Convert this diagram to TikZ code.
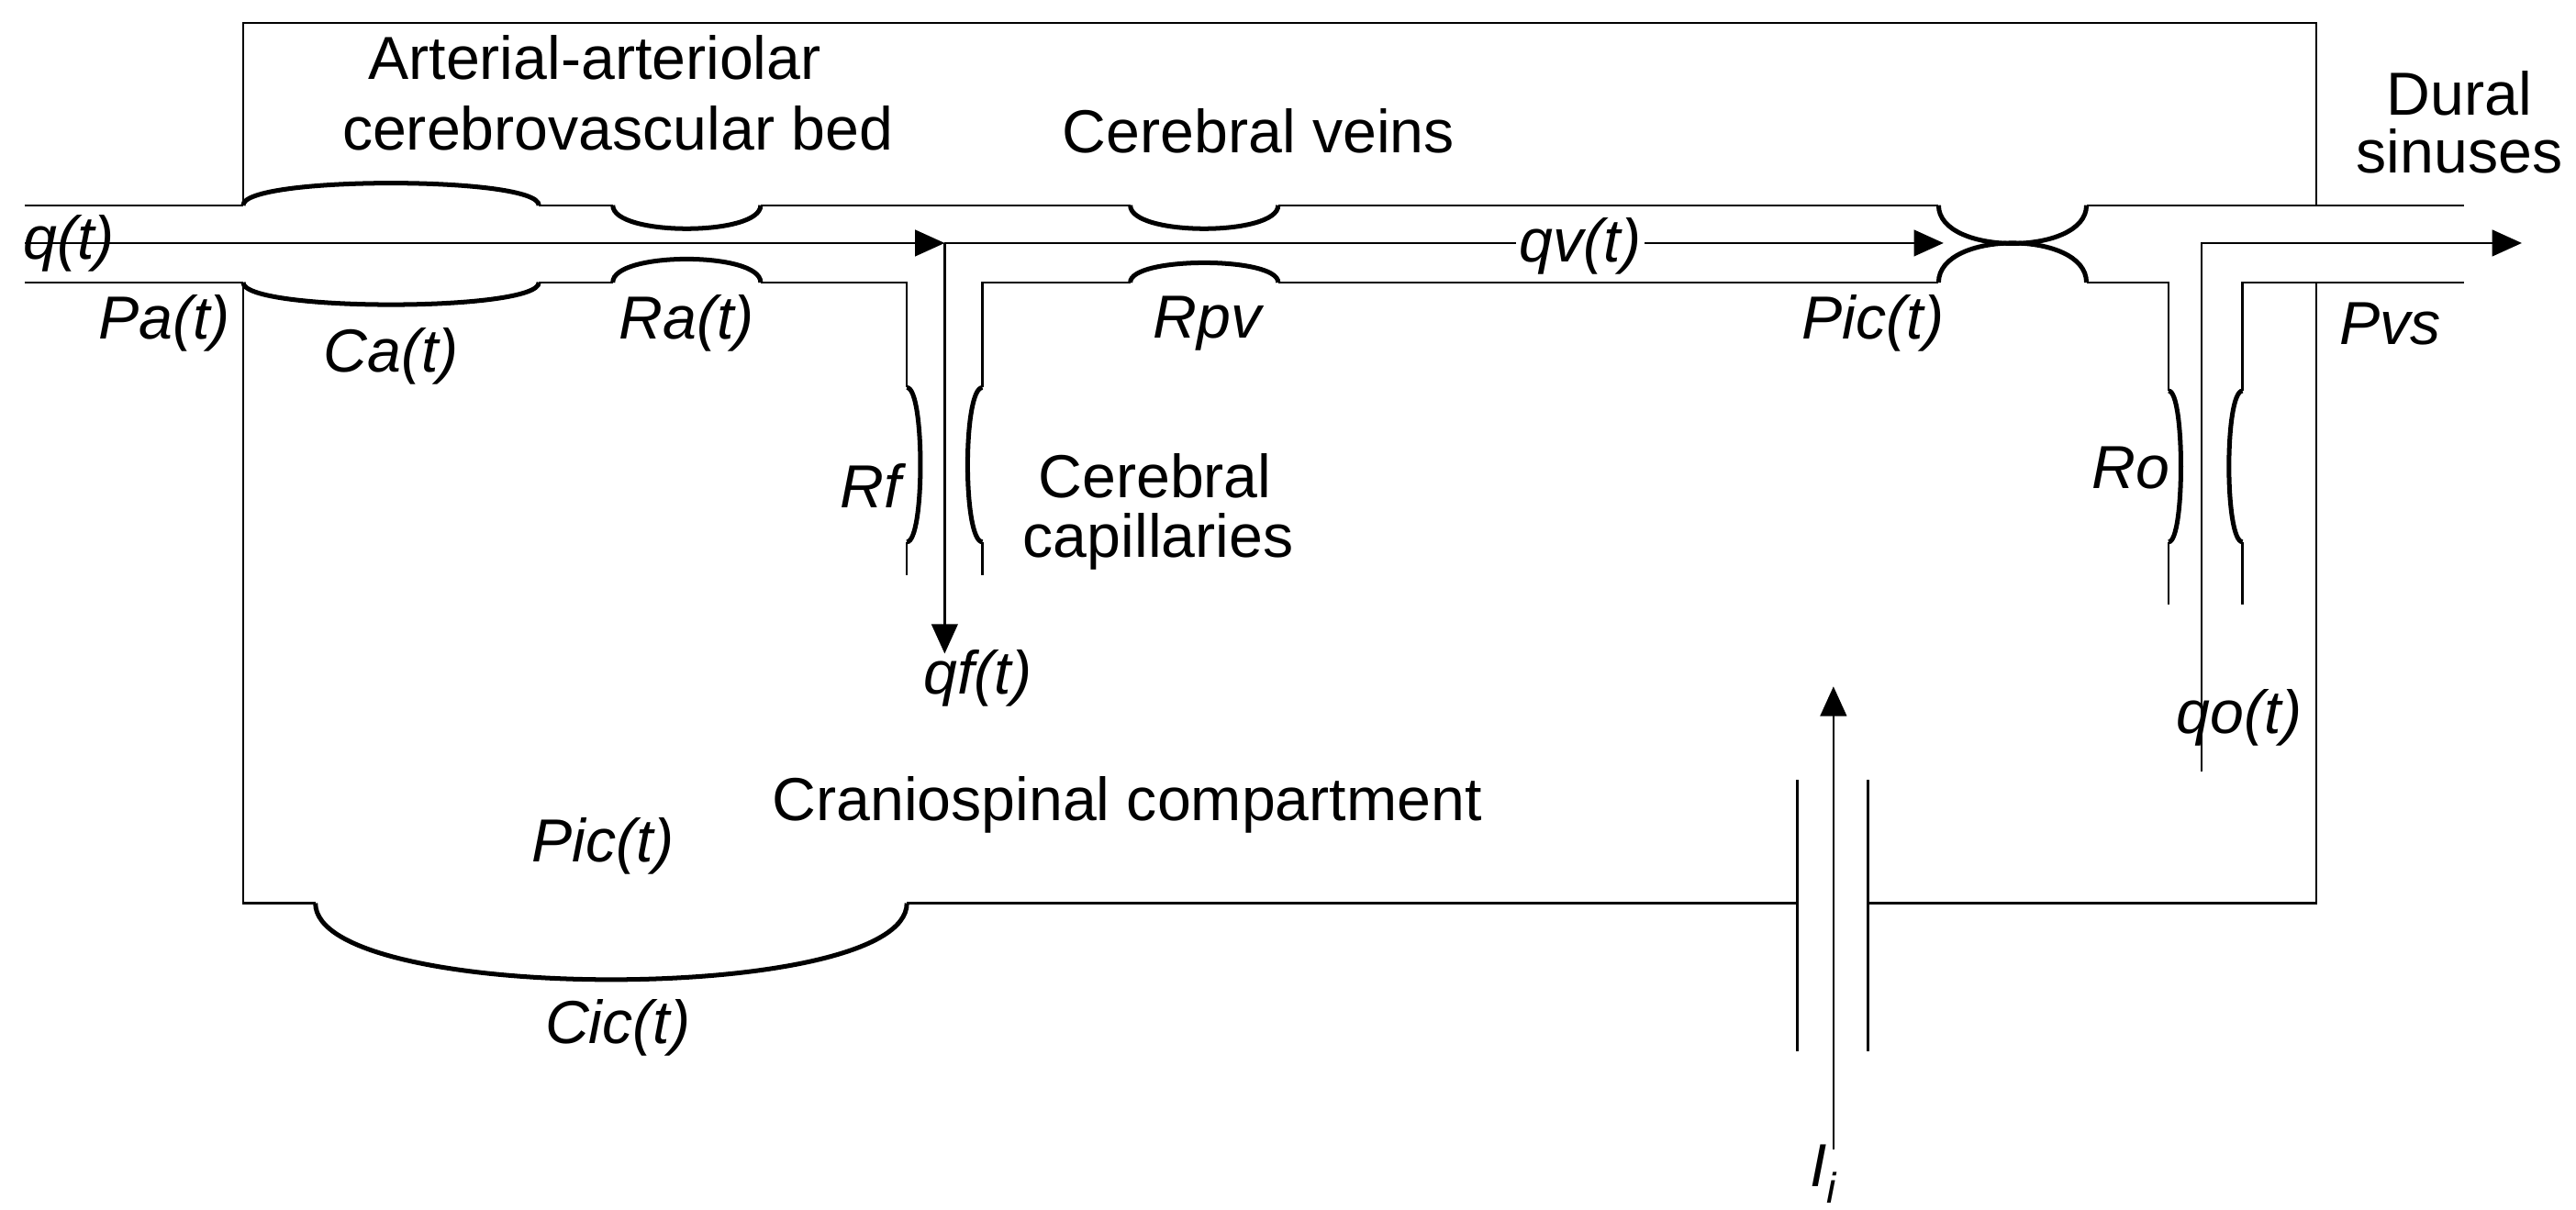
\documentclass[tikz,border=0pt]{standalone}
\usepackage{fontspec}
\setmainfont{Liberation Sans}
\usetikzlibrary{arrows.meta}
\begin{document}
\begin{tikzpicture}[x=1pt,y=-1pt,
  thinline/.style={line width=1.3pt},
  arcline/.style={line width=2.8pt},
  arr/.style={thinline,-{Triangle[length=18pt,width=16pt]}},
  lab/.style={font=\fontsize{37}{42}\selectfont,inner sep=0pt},
  var/.style={font=\fontsize{37}{42}\selectfont\itshape,inner sep=0pt}]
\useasboundingbox (0,0) rectangle (1568,736.3);
% outer box
\draw[thinline] (148,125) -- (148,14) -- (1410,14) -- (1410,125);
\draw[thinline] (148,172) -- (148,550) -- (192,550);
\draw[thinline] (552,550) -- (1094,550);
\draw[thinline] (1137,550) -- (1410,550) -- (1410,172);
\draw[arcline] (192,550) .. controls (192,612) and (552,612) .. (552,550);
% Ii capacitor
\draw[thinline] (1094,475) -- (1094,640);
\draw[thinline] (1137,475) -- (1137,640);
\coordinate (iib) at (1116,700);
\coordinate (iit) at (1116,418);
\draw[arr] (iib) -- (iit);
% top vessel line
\draw[thinline] (15,125) -- (148,125);
\draw[arcline] (148,125) .. controls (148,107) and (328,107) .. (328,125);
\draw[thinline] (328,125) -- (373,125);
\draw[arcline] (373,125) .. controls (373,144) and (463,144) .. (463,125);
\draw[thinline] (463,125) -- (688,125);
\draw[arcline] (688,125) .. controls (688,144) and (778,144) .. (778,125);
\draw[thinline] (778,125) -- (1180,125);
\draw[arcline] (1180,125) .. controls (1180,156) and (1270,156) .. (1270,125);
\draw[thinline] (1270,125) -- (1500,125);
% bottom vessel line
\draw[thinline] (15,172) -- (148,172);
\draw[arcline] (148,172) .. controls (148,190) and (328,190) .. (328,172);
\draw[thinline] (328,172) -- (373,172);
\draw[arcline] (373,172) .. controls (373,153) and (463,153) .. (463,172);
\draw[thinline] (463,172) -- (552,172) -- (552,236);
\draw[arcline] (552,236) .. controls (563,236) and (563,330) .. (552,330);
\draw[thinline] (552,330) -- (552,350);
\draw[thinline] (598,350) -- (598,330);
\draw[arcline] (598,330) .. controls (586,330) and (586,236) .. (598,236);
\draw[thinline] (598,236) -- (598,172) -- (688,172);
\draw[arcline] (688,172) .. controls (688,156) and (778,156) .. (778,172);
\draw[thinline] (778,172) -- (1180,172);
\draw[arcline] (1180,172) .. controls (1180,140) and (1270,140) .. (1270,172);
\draw[thinline] (1270,172) -- (1320,172) -- (1320,238);
\draw[arcline] (1320,238) .. controls (1330,238) and (1330,330) .. (1320,330);
\draw[thinline] (1320,330) -- (1320,368);
\draw[thinline] (1365,368) -- (1365,330);
\draw[arcline] (1365,330) .. controls (1354,330) and (1354,238) .. (1365,238);
\draw[thinline] (1365,238) -- (1365,172) -- (1500,172);
% flow lines
\coordinate (qin) at (15,148);
\coordinate (j1) at (575,148);
\coordinate (qfend) at (575,398);
\coordinate (jm) at (1170,148);
\coordinate (j2) at (1183,148);
\coordinate (oc) at (1340,470);
\coordinate (oc2) at (1340,148);
\coordinate (qend) at (1535,148);
\draw[arr] (qin) -- (j1);
\draw[thinline] (j1) -- (jm);
\draw[arr] (jm) -- (j2);
\draw[arr] (j1) -- (qfend);
\draw[arr] (oc) -- (oc2) -- (qend);
% labels
\node[lab] (t1) at (362,35) {Arterial-arteriolar};
\node[lab] (t2) at (376,78) {cerebrovascular bed};
\node[lab] (t3) at (766,80) {Cerebral veins};
\node[lab] (t4) at (1497,57) {Dural};
\node[lab] (t5) at (1497,92) {sinuses};
\node[lab] (t6) at (703,290) {Cerebral};
\node[lab] (t7) at (705,330) {capillaries};
\node[lab] (t8) at (686,490) {Craniospinal compartment};
\node[var] (v1) at (42,148) {q(t)};
\node[var] (v2) at (100,197) {Pa(t)};
\node[var] (v3) at (238,217) {Ca(t)};
\node[var] (v4) at (418,197) {Ra(t)};
\node[var] (v5) at (530,296) {Rf};
\node[var] (v6) at (735,197) {Rpv};
\node[var,fill=white,inner sep=2pt] (v7) at (962,150) {qv(t)};
\node[var] (v8) at (1140,197) {Pic(t)};
\node[var] (v9) at (1455,197) {Pvs};
\node[var] (v10) at (1297,285) {Ro};
\node[var] (v11) at (595,413) {qf(t)};
\node[var] (v12) at (1363,437) {qo(t)};
\node[var] (v13) at (367,515) {Pic(t)};
\node[var] (v14) at (376,626) {Cic(t)};
\node[var] (v15) at (1110,715) {I$_{\mathit{i}}$};
\end{tikzpicture}
\end{document}
